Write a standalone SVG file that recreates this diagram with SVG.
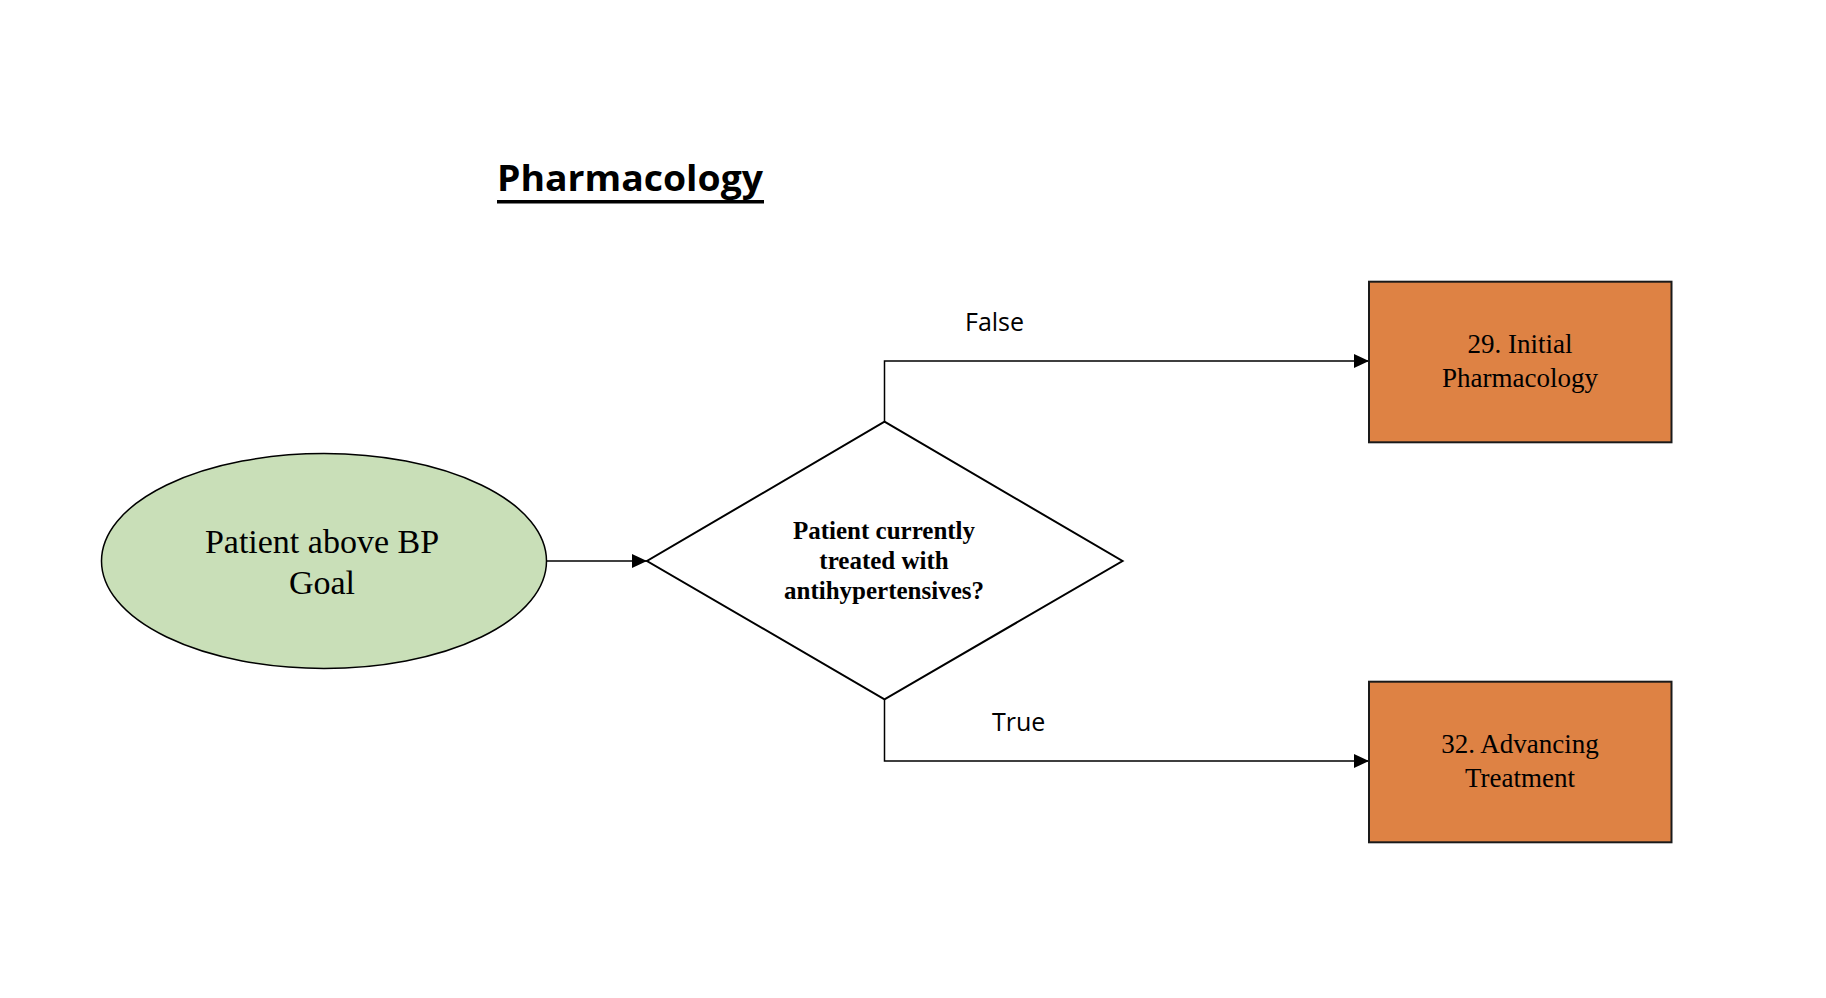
<svg xmlns="http://www.w3.org/2000/svg" width="1826" height="998" viewBox="0 0 1826 998">
  <style>
    .serif { font-family: "Liberation Serif", "Times New Roman", serif; fill: #000; text-anchor: middle; }
    .lbl { font-family: "Open Sans", "Liberation Sans", sans-serif; font-size: 25px; fill: #000; }
    .conn { fill: none; stroke: #000; stroke-width: 1.5; }
    .box { fill: #DE8244; stroke: #1a1a1a; stroke-width: 2; }
  </style>
  <defs>
    <marker id="arrow" markerUnits="userSpaceOnUse" markerWidth="15" markerHeight="14" refX="15" refY="7" orient="auto">
      <path d="M0,0 L15,7 L0,14 Z" fill="#000"/>
    </marker>
  </defs>
  <rect width="1826" height="998" fill="#fff"/>

  <g id="title">
    <text x="497" y="191" font-family="'Open Sans', 'Liberation Sans', sans-serif" font-weight="bold" font-size="35" textLength="266" lengthAdjust="spacingAndGlyphs">Pharmacology</text>
    <rect x="497" y="200" width="267" height="3.5" fill="#000"/>
  </g>

  <g id="connectors">
    <line class="conn" x1="547" y1="561" x2="647" y2="561" marker-end="url(#arrow)"/>
    <polyline class="conn" points="884.5,421.7 884.5,361 1369,361" marker-end="url(#arrow)"/>
    <polyline class="conn" points="884.5,699.3 884.5,761 1369,761" marker-end="url(#arrow)"/>
    <text class="lbl" x="965" y="331">False</text>
    <text class="lbl" x="992" y="731">True</text>
  </g>

  <g id="start">
    <ellipse cx="324" cy="561" rx="222.5" ry="107.5" fill="#C9DFB8" stroke="#000" stroke-width="1.5"/>
    <text class="serif" x="322" y="553" font-size="34">Patient above BP</text>
    <text class="serif" x="322" y="594" font-size="34">Goal</text>
  </g>

  <g id="decision">
    <polygon points="884.5,421.7 1122.5,561 884.5,699.3 647,561" fill="#fff" stroke="#000" stroke-width="2"/>
    <text class="serif" x="884" y="539" font-size="25" font-weight="bold">Patient currently</text>
    <text class="serif" x="884" y="569" font-size="25" font-weight="bold">treated with</text>
    <text class="serif" x="884" y="599" font-size="25" font-weight="bold">antihypertensives?</text>
  </g>

  <g id="initial">
    <rect class="box" x="1369" y="281.7" width="302.5" height="160.6"/>
    <text class="serif" x="1520" y="353" font-size="27">29. Initial</text>
    <text class="serif" x="1520" y="387" font-size="27">Pharmacology</text>
  </g>

  <g id="advancing">
    <rect class="box" x="1369" y="681.7" width="302.5" height="160.6"/>
    <text class="serif" x="1520" y="753" font-size="27">32. Advancing</text>
    <text class="serif" x="1520" y="787" font-size="27">Treatment</text>
  </g>
</svg>
